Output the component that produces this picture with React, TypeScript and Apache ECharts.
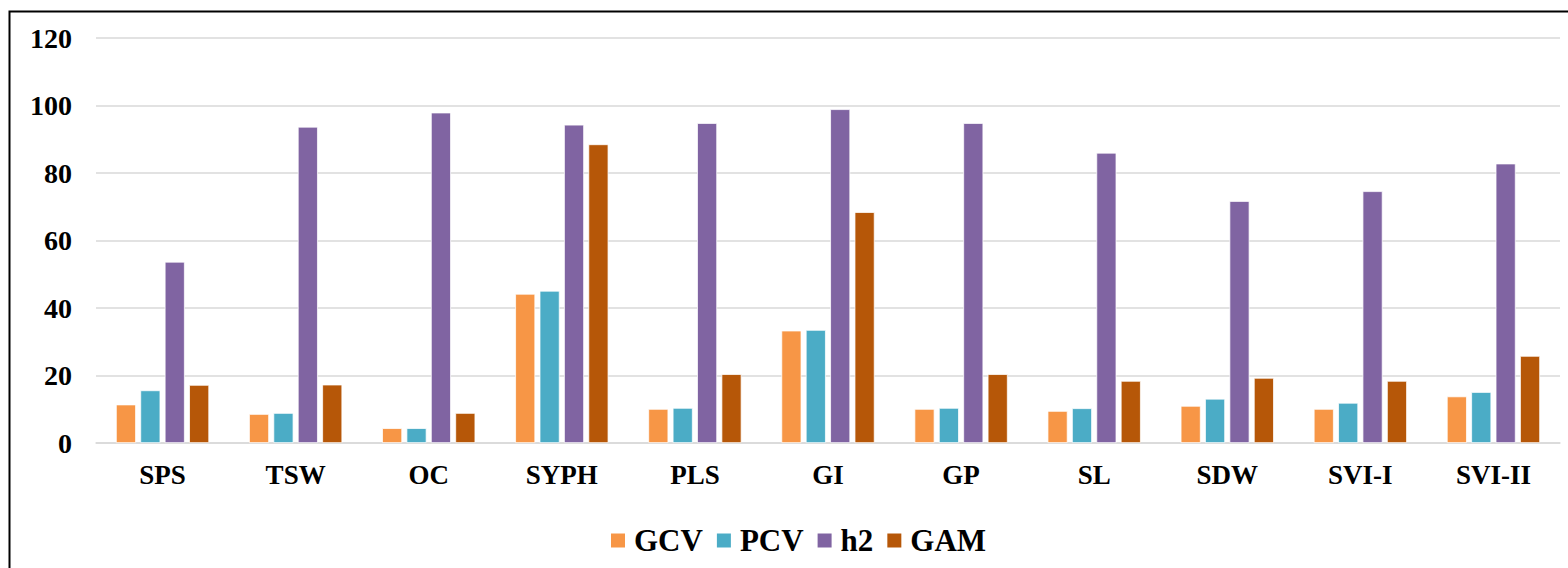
import React, { useEffect, useRef } from "react";
import * as echarts from "echarts";

const categories = ["SPS", "TSW", "OC", "SYPH", "PLS", "GI", "GP", "SL", "SDW", "SVI-I", "SVI-II"];
const gcv = [11.4, 8.6, 4.4, 44.2, 10.1, 33.3, 10.1, 9.5, 11.0, 10.1, 13.8];
const pcv = [15.6, 8.9, 4.4, 45.1, 10.4, 33.5, 10.4, 10.3, 13.1, 11.9, 15.1];
const h2 = [53.7, 93.7, 97.9, 94.3, 94.8, 98.9, 94.8, 86.0, 71.7, 74.6, 82.8];
const gam = [17.2, 17.3, 8.9, 88.5, 20.4, 68.4, 20.4, 18.4, 19.3, 18.4, 25.8];
const seriesNames = ["GCV", "PCV", "h2", "GAM"];
const colors = ["#F79646", "#4BACC6", "#8064A2", "#B65708"];

const FONT = '"Liberation Serif", "Times New Roman", Times, serif';

export default function App() {
  const ref = useRef<HTMLDivElement>(null);
  useEffect(() => {
    if (!ref.current) return;
    const chart = echarts.init(ref.current, undefined, { renderer: "svg" });
    const data = [gcv, pcv, h2, gam];
    chart.setOption({
      animation: false,
      backgroundColor: "#ffffff",
      grid: { left: 96, right: 8, top: 38, bottom: 125, containLabel: false },
      legend: {
        data: seriesNames,
        top: 520,
        left: 604,
        itemWidth: 16,
        itemHeight: 16,
        itemGap: 12,
        icon: "rect",
        textStyle: { fontFamily: FONT, fontSize: 31, fontWeight: "bold", color: "#000", padding: [0, 0, 0, 3] },
      },
      xAxis: {
        type: "category",
        data: categories,
        axisLine: { lineStyle: { color: "#D9D9D9", width: 1.5 } },
        axisTick: { show: false },
        axisLabel: { fontFamily: FONT, fontSize: 27, fontWeight: "bold", color: "#000", margin: 18 },
      },
      yAxis: {
        type: "value",
        min: 0,
        max: 120,
        interval: 20,
        axisLine: { show: false },
        axisTick: { show: false },
        splitLine: { lineStyle: { color: "#D9D9D9", width: 1.5 } },
        axisLabel: { fontFamily: FONT, fontSize: 28, fontWeight: "bold", color: "#000", margin: 24 },
      },
      graphic: [
        {
          type: "rect",
          left: 7,
          top: 9,
          shape: { x: 0, y: 0, width: 1600, height: 600 },
          style: { fill: "none", stroke: "#000", lineWidth: 2 },
          silent: true,
        },
      ],
      series: seriesNames.map((name, i) => ({
        name,
        type: "bar",
        data: data[i],
        barWidth: 20,
        barGap: "22%",
        itemStyle: { color: colors[i], borderColor: "#ffffff", borderWidth: 0.75 },
      })),
    });
    return () => chart.dispose();
  }, []);
  return <div ref={ref} style={{ position: "fixed", left: 0, top: 0, width: 1568, height: 568 }} />;
}
